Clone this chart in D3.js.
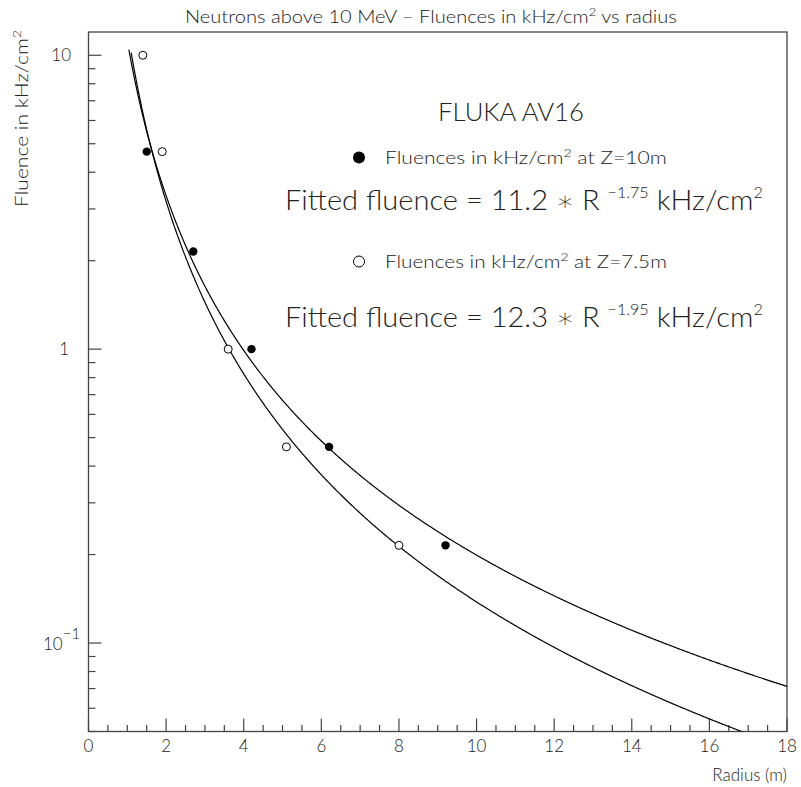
<!DOCTYPE html>
<html>
<head>
<meta charset="utf-8">
<script src="https://cdn.jsdelivr.net/npm/d3@7"></script>
<style>
body{margin:0;background:#fff;}
text{font-family:Lato,"DejaVu Sans",sans-serif;font-weight:300;fill:#222;}
</style>
</head>
<body>
<svg id="svg" width="801" height="787"></svg>
<script>
// measured fluences, Z=10m (filled) and Z=7.5m (open)
var radiusZ10=[1.5,2.7,4.2,6.2,9.2];
var fluenceZ10=[4.7,2.15,1.0,0.465,0.215];
var radiusZ75=[1.4,1.9,3.6,5.1,8.0];
var fluenceZ75=[10.0,4.7,1.0,0.465,0.215];

// fit parameters printed on the chart: F = A * R^B
var fitNames=['Z=10m','Z=7.5m'];
var fitA=[11.2,12.3];
var fitB=[-1.75,-1.95];
var fitStart=[1.04,1.1];

var xTicks=[0,2,4,6,8,10,12,14,16,18];
var yTicks=[0.1,1,10];

var svg=d3.select("#svg");
var box={left:88.5,right:787,top:32,bottom:731.5};

var x=d3.scaleLinear().domain([0,18]).range([box.left,box.right]);
var y=d3.scaleLog().domain([0.05,12]).range([box.bottom,box.top]);

svg.append("defs").append("clipPath").attr("id","plot")
.append("rect").attr("x",box.left).attr("y",box.top)
.attr("width",box.right-box.left).attr("height",box.bottom-box.top);

// frame
svg.append("rect")
.attr("x",box.left).attr("y",box.top)
.attr("width",box.right-box.left).attr("height",box.bottom-box.top)
.attr("fill","none").attr("stroke","#444").attr("stroke-width",1.3);

// x axis ticks (inward)
var xminor=d3.range(0.5,18,0.5).filter(function(d){return d%2!=0;});
var xaxis=svg.append("g").attr("stroke","#444").attr("stroke-width",1.2);
xaxis.selectAll("line.maj").data(xTicks).enter().append("line")
.attr("x1",function(d){return x(d);}).attr("x2",function(d){return x(d);})
.attr("y1",box.bottom).attr("y2",box.bottom-13);
xaxis.selectAll("line.min").data(xminor).enter().append("line")
.attr("x1",function(d){return x(d);}).attr("x2",function(d){return x(d);})
.attr("y1",box.bottom).attr("y2",box.bottom-6.5);
svg.selectAll("text.xl").data(xTicks).enter().append("text")
.attr("x",function(d){return x(d);}).attr("y",752)
.attr("text-anchor","middle").attr("font-size",17)
.text(function(d){return d;});

// y axis ticks (inward)
var yminor=[];
[0.01,0.1,1].forEach(function(dec){
	for(var k=2;k<10;k++){
		var v=+(k*dec).toFixed(3);
		if(v>=0.05&&v<=12)yminor.push(v);
	}
});
var yaxis=svg.append("g").attr("stroke","#444").attr("stroke-width",1.2);
yaxis.selectAll("line.maj").data(yTicks).enter().append("line")
.attr("x1",box.left).attr("x2",box.left+13)
.attr("y1",function(d){return y(d);}).attr("y2",function(d){return y(d);});
yaxis.selectAll("line.min").data(yminor).enter().append("line")
.attr("x1",box.left).attr("x2",box.left+7)
.attr("y1",function(d){return y(d);}).attr("y2",function(d){return y(d);});

svg.append("text").attr("x",71).attr("y",y(10)+6).attr("text-anchor","end")
.attr("font-size",17).text("10");
svg.append("text").attr("x",69).attr("y",y(1)+6).attr("text-anchor","end")
.attr("font-size",17).text("1");
var tm=svg.append("text").attr("x",43).attr("y",y(0.1)+7).attr("font-size",17);
tm.append("tspan").text("10");
tm.append("tspan").attr("dy",-11).attr("font-size",15).text("\u22121");

// fitted curves
var line=d3.line().x(function(d){return x(d[0]);}).y(function(d){return y(d[1]);});
var curves=svg.append("g").attr("clip-path","url(#plot)");
fitA.forEach(function(a,i){
	var pts=d3.range(fitStart[i],18.001,0.02).map(function(r){return [r,a*Math.pow(r,fitB[i])];});
	curves.append("path").attr("d",line(pts))
	.attr("fill","none").attr("stroke","#000").attr("stroke-width",1.2);
});

// points
svg.selectAll("circle.z10").data(radiusZ10).enter().append("circle")
.attr("cx",function(d){return x(d);})
.attr("cy",function(d,i){return y(fluenceZ10[i]);})
.attr("r",4.2).attr("fill","#000");
svg.selectAll("circle.z75").data(radiusZ75).enter().append("circle")
.attr("cx",function(d){return x(d);})
.attr("cy",function(d,i){return y(fluenceZ75[i]);})
.attr("r",4).attr("fill","#fff").attr("stroke","#000").attr("stroke-width",1);

// text with superscripts, stretched to the width seen in the picture
function rich(xp,yp,size,parts,supSize,supDy,width,anchor){
	var g=svg.append("g");
	var t=g.append("text").attr("x",0).attr("y",0).attr("font-size",size);
	var up=false;
	parts.forEach(function(p){
		var s=t.append("tspan").text(p[0]);
		if(p[1]){
			s.attr("font-size",supSize);
			if(!up){s.attr("dy",-supDy);up=true;}
		}else if(up){
			s.attr("dy",supDy);up=false;
		}
	});
	var w=t.node().getComputedTextLength();
	var sx=width?width/w:1;
	var x0=anchor=="middle"?xp-width/2:xp;
	g.attr("transform","translate("+x0+","+yp+") scale("+sx+",1)");
	return g;
}

// title
rich(431,23,17,[["Neutrons above 10 MeV \u2013 Fluences in kHz/cm"],["2",1],[" vs radius"]],11,7,492,"middle");

// axis titles
var ytg=svg.append("g").attr("transform","translate(28,207) rotate(-90)");
var yt=ytg.append("text").attr("font-size",17);
yt.append("tspan").text("Fluence in kHz/cm");
yt.append("tspan").attr("dy",-7).attr("font-size",11).text("2");
yt.attr("transform","scale("+(177/yt.node().getComputedTextLength())+",1)");
svg.append("text").attr("x",787).attr("y",781).attr("text-anchor","end")
.attr("font-size",17).text("Radius (m)");

// annotations
rich(438,121,25,[["FLUKA AV16"]],0,0,146);

svg.append("circle").attr("cx",359).attr("cy",157.5).attr("r",6).attr("fill","#000");
rich(385,164,18,[["Fluences in kHz/cm"],["2",1],["  at "+fitNames[0]]],12,7,282);

rich(285,210,27,[["Fitted fluence = "+fitA[0]+" \u2217 R "],["\u2212"+(-fitB[0]),1],[" kHz/cm"],["2",1]],15,12,478);

svg.append("circle").attr("cx",359).attr("cy",261.5).attr("r",5.5)
.attr("fill","#fff").attr("stroke","#000").attr("stroke-width",1);
rich(385,267.5,18,[["Fluences in kHz/cm"],["2",1],[" at "+fitNames[1]]],12,7,282);

rich(285,327,27,[["Fitted fluence = "+fitA[1]+" \u2217 R "],["\u2212"+(-fitB[1]),1],[" kHz/cm"],["2",1]],15,12,478);
</script>
</body>
</html>
